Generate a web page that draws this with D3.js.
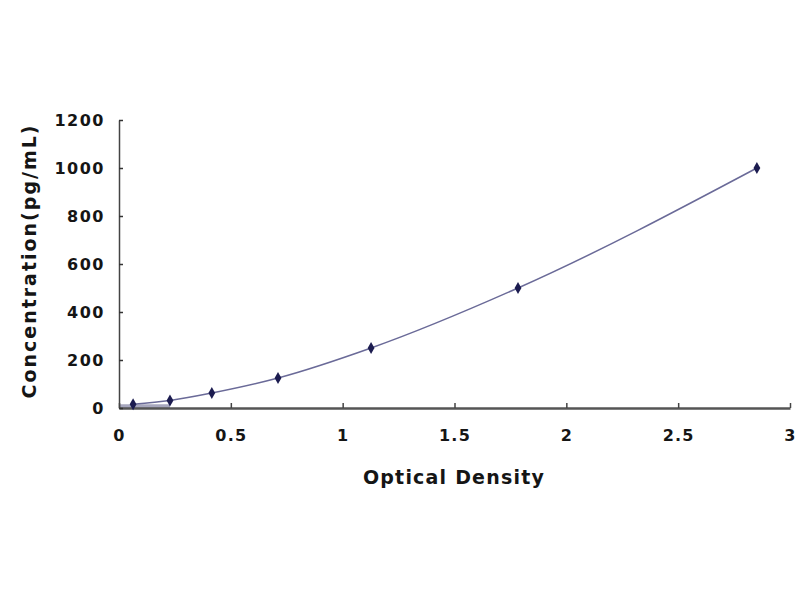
<!DOCTYPE html>
<html><head><meta charset="utf-8">
<script src="https://cdn.jsdelivr.net/npm/d3@7"></script>
<style>body{margin:0;background:#fff;} text{font-family:"DejaVu Sans",Arial,sans-serif;font-weight:bold;fill:#151515;}</style>
</head><body><svg id="c" width="800" height="600"></svg>
<script>
const odValues = [0.063, 0.228, 0.415, 0.711, 1.127, 1.784, 2.852];
const concValues = [15.6, 31.25, 62.5, 125, 250, 500, 1000];
const xTicks = [0, 0.5, 1, 1.5, 2, 2.5, 3];
const yTicks = [0, 200, 400, 600, 800, 1000, 1200];

const svg = d3.select("#c");
const x = d3.scaleLinear().domain([0, 3]).range([119, 790]);
const y = d3.scaleLinear().domain([0, 1200]).range([408, 120]);
const pts = odValues.map((v, i) => ({x: v, y: concValues[i]}));

// shaded band near origin
svg.append("path")
  .datum(pts.slice(0, 2))
  .attr("d", d3.area().x((d, i) => i === 0 ? x(0) : x(d.x)).y0(y(0)).y1(() => y(concValues[0])))
  .attr("fill", "#8a8aa8").attr("opacity", 0.75);

// axes
const xAxis = svg.append("g").attr("transform", `translate(0,${y(0)})`)
  .call(d3.axisBottom(x).tickValues(xTicks).tickSizeInner(-5).tickSizeOuter(0).tickPadding(22).tickFormat(d3.format("")));
xAxis.select(".domain").attr("stroke", "#555").attr("stroke-width", 2.5);
xAxis.selectAll(".tick line").attr("stroke", "#444").attr("stroke-width", 1.5);
xAxis.selectAll("text").attr("font-size", 16).attr("fill", "#151515").attr("letter-spacing", 1.2);

const yAxis = svg.append("g").attr("transform", `translate(${x(0)},0)`)
  .call(d3.axisLeft(y).tickValues(yTicks).tickSizeInner(-4).tickSizeOuter(0).tickPadding(14).tickFormat(d3.format("")));
yAxis.select(".domain").attr("stroke", "#444").attr("stroke-width", 1.5);
yAxis.selectAll(".tick line").attr("stroke", "#333").attr("stroke-width", 1.5);
yAxis.selectAll("text").attr("font-size", 16).attr("fill", "#151515").attr("letter-spacing", 1.5);

// fitted curve
svg.append("path").datum(pts)
  .attr("d", d3.line().x(d => x(d.x)).y(d => y(d.y)).curve(d3.curveMonotoneX))
  .attr("fill", "none").attr("stroke", "#6a6a98").attr("stroke-width", 1.5);

// markers
svg.selectAll(".pt").data(pts).enter().append("path")
  .attr("transform", d => `translate(${x(d.x)},${y(d.y)})`)
  .attr("d", d3.symbol().type(d3.symbolDiamond).size(40))
  .attr("fill", "#1c1c50");

// titles
svg.append("text").attr("x", 454).attr("y", 484).attr("text-anchor", "middle")
  .attr("font-size", 19).attr("letter-spacing", 1.2).text("Optical Density");
svg.append("text").attr("transform", "translate(36,261) rotate(-90)").attr("text-anchor", "middle")
  .attr("font-size", 19).attr("letter-spacing", 2).text("Concentration(pg/mL)");
</script></body></html>
